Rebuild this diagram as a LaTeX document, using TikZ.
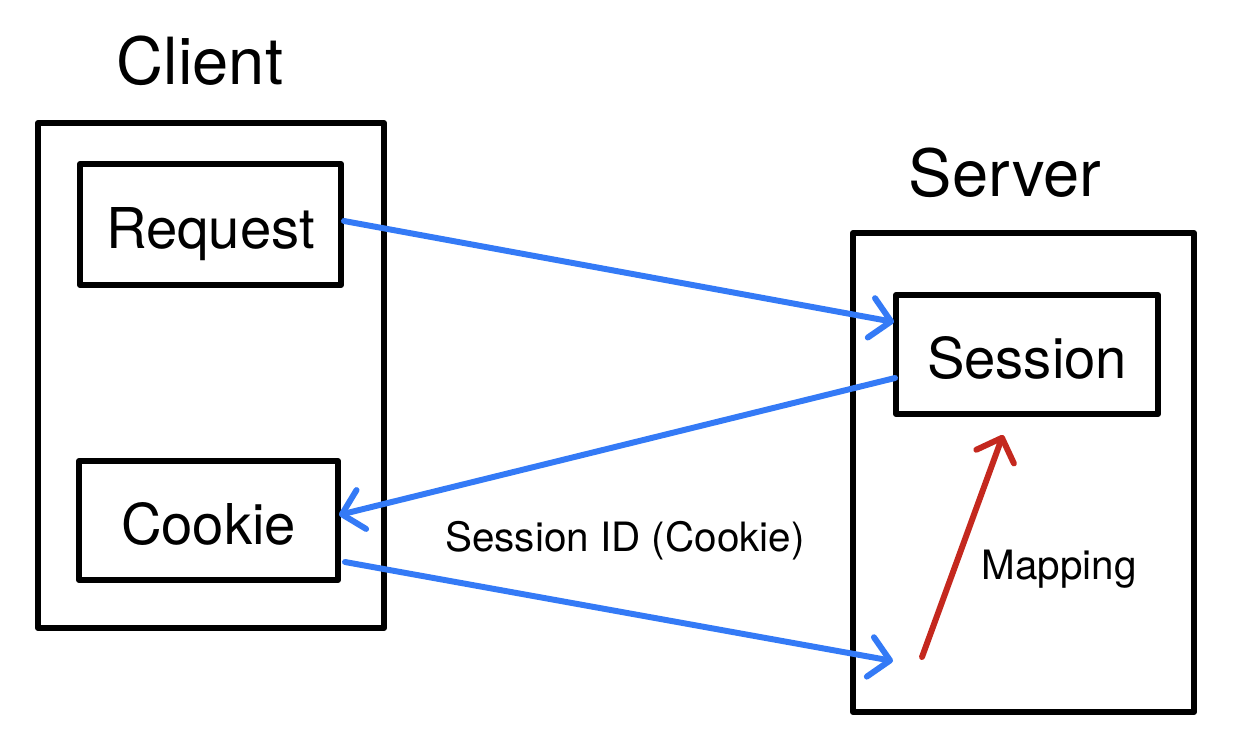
\documentclass[tikz,border=0pt]{standalone}
\usepackage{fontspec}
\setmainfont{TeX Gyre Heros}
\usetikzlibrary{arrows.meta,positioning}
\definecolor{linkblue}{RGB}{52,122,246}
\definecolor{mapred}{RGB}{196,40,30}

\begin{document}
\begin{tikzpicture}[
        frame/.style={draw, line width=3.4pt, line join=round},
        box/.style={draw, line width=3.4pt, line join=round, inner sep=0pt, text height=27pt, text depth=0pt, font=\fontsize{32}{36}\selectfont},
        title/.style={anchor=base, font=\fontsize{37}{42}\selectfont},
        note/.style={anchor=base, font=\fontsize{23}{27}\selectfont},
        link/.style={linkblue, line width=3.4pt, line cap=round, -{Straight Barb[length=4mm,width=8mm,round]}},
        map/.style={mapred, line width=3.4pt, line cap=round, -{Straight Barb[length=4mm,width=8mm,round]}},
    ]
    \useasboundingbox (0,0) rectangle (24.66,14.74);

    % Client side
    \draw[frame] (0.76,2.18) rectangle (7.68,12.28);
    \node[title] (client) at (4.0,13.04) {Client};
    \node[box, minimum width=5.22cm, minimum height=2.42cm] (request) at (4.21,10.25) {Request};
    \node[box, minimum width=5.18cm, minimum height=2.38cm] (cookie) at (4.17,4.33) {Cookie};

    % Server side
    \draw[frame] (17.06,0.5) rectangle (23.88,10.08);
    \node[title] (server) at (20.1,10.8) {Server};
    \node[box, minimum width=5.24cm, minimum height=2.38cm] (session) at (20.54,7.65) {Session};
    \coordinate (inbox) at (17.86,1.52);
    \coordinate (mapfrom) at (18.44,1.6);
    \coordinate (mapto) at (20.06,6.04);

    % Connectors
    \draw[link] ([yshift=0.07cm]request.east) -- ([xshift=0.02cm,yshift=0.65cm]session.west);
    \draw[link] ([xshift=0.04cm,yshift=-0.47cm]session.west) -- ([xshift=-0.04cm,yshift=0.11cm]cookie.east);
    \draw[link] ([xshift=0.08cm,yshift=-0.83cm]cookie.east) -- (inbox);
    \draw[map] (mapfrom) -- (mapto);

    % Labels
    \node[note] (sid) at (12.5,3.72) {Session ID (Cookie)};
    \node[note] (mapping) at (21.18,3.16) {Mapping};
\end{tikzpicture}
\end{document}
